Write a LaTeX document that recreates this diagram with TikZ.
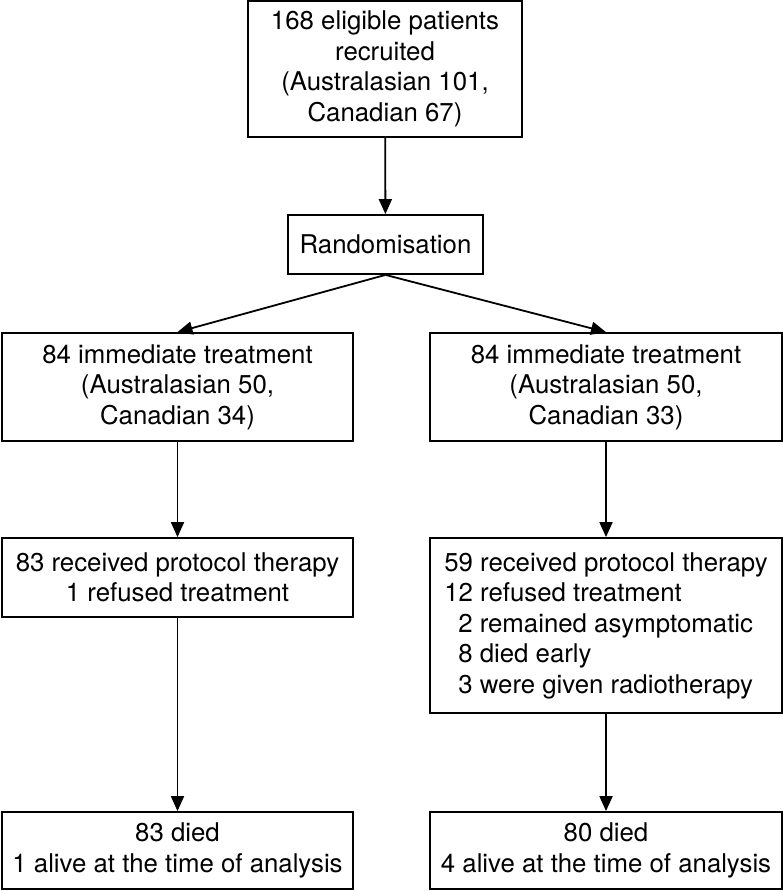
\documentclass[tikz,border=0pt]{standalone}
\usepackage{fontspec}
\setmainfont{TeX Gyre Heros}
\usetikzlibrary{arrows.meta}

\begin{document}
\begin{tikzpicture}[x=1pt,y=-1pt,
	box/.style={draw, line width=1.8pt, inner sep=0pt, align=center, font=\fontsize{25.8}{30.5}\selectfont},
	arr/.style={-{Triangle[length=15pt,width=13pt]}, line width=1.8pt}]
	\useasboundingbox (0,0) rectangle (783,891);
	
	\node[box, minimum width=274pt, minimum height=136pt] (P) at (385,69) {168 eligible patients\\recruited\\(Australasian 101,\\Canadian 67)};
	\node[box, minimum width=195pt, minimum height=59pt] (Rnd) at (385.5,244.5) {Randomisation};
	
	\node[box, minimum width=351pt, minimum height=108pt] (L1) at (177.5,387) {84 immediate treatment\\(Australasian 50,\\Canadian 34)};
	\node[box, minimum width=352pt, minimum height=108pt] (R1) at (606,387) {84 immediate treatment\\(Australasian 50,\\Canadian 33)};
	
	\node[box, minimum width=351pt, minimum height=79pt] (L2) at (177.5,577.5) {83 received protocol therapy\\1 refused treatment};
	\node[box, align=left, minimum width=352pt, minimum height=175pt] (R2) at (606,625.5) {59 received protocol therapy\\12 refused treatment\\\hspace*{14pt}2 remained asymptomatic\\\hspace*{14pt}8 died early\\\hspace*{14pt}3 were given radiotherapy};
	
	\node[box, minimum width=351pt, minimum height=77pt] (L3) at (177.5,850.5) {83 died\\1 alive at the time of analysis};
	\node[box, minimum width=352pt, minimum height=77pt] (R3) at (606,850.5) {80 died\\4 alive at the time of analysis};
	
	\draw[arr] (P) -- (Rnd);
	\draw[arr] (Rnd.south) -- (L1.north);
	\draw[arr] (Rnd.south) -- (R1.north);
	\draw[arr] (L1) -- (L2);
	\draw[arr] (R1) -- (R2);
	\draw[arr] (L2) -- (L3);
	\draw[arr] (R2) -- (R3);
\end{tikzpicture}
\end{document}
